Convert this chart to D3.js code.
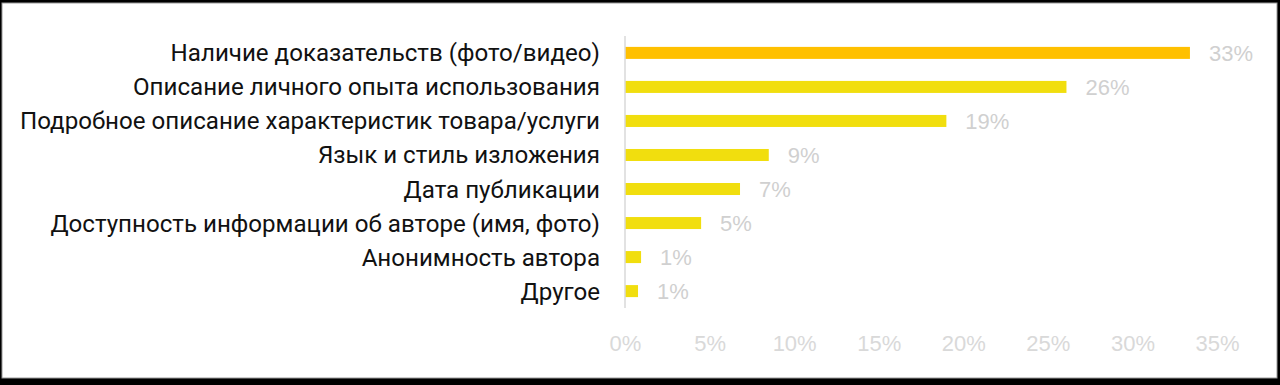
<!DOCTYPE html>
<html>
<head>
<meta charset="utf-8">
<script src="https://cdn.jsdelivr.net/npm/d3@7"></script>
<style>
  html, body { margin: 0; padding: 0; background: #000; }
  svg { display: block; }
</style>
</head>
<body>
<div id="chart"></div>
<script>
var categories = [
    "Наличие доказательств (фото/видео)",
    "Описание личного опыта использования",
    "Подробное описание характеристик товара/услуги",
    "Язык и стиль изложения",
    "Дата публикации",
    "Доступность информации об авторе (имя, фото)",
    "Анонимность автора",
    "Другое"
];
var values = [0.334, 0.261, 0.190, 0.085, 0.068, 0.045, 0.0095, 0.0077];
var valueLabels = ["33%", "26%", "19%", "9%", "7%", "5%", "1%", "1%"];
var xTicks = [0, 0.05, 0.10, 0.15, 0.20, 0.25, 0.30, 0.35];

var W = 1280, H = 385;
var margin = { top: 36, right: 63, bottom: 77, left: 625 };
var width = W - margin.left - margin.right,
    height = H - margin.top - margin.bottom;

var svg = d3.select("#chart").append("svg")
    .attr("width", W)
    .attr("height", H);

// frame
svg.append("rect").attr("width", W).attr("height", H).attr("fill", "#000");
svg.append("rect")
    .attr("x", 2).attr("y", 3)
    .attr("width", W - 5).attr("height", H - 10)
    .attr("fill", "#fff")
    .attr("stroke", "#9a9a9a")
    .attr("stroke-width", 1);

var g = svg.append("g")
    .attr("transform", "translate(" + margin.left + "," + margin.top + ")");

var x = d3.scaleLinear().domain([0, 0.35]).range([0, width - 0]);
x.range([0, 592]);

var y = d3.scaleBand()
    .domain(categories)
    .range([0, height])
    .paddingInner(0.647)
    .paddingOuter(0.32);

// bars
g.selectAll(".bar")
    .data(values)
    .enter()
    .append("rect")
    .attr("class", "bar")
    .attr("x", 0)
    .attr("y", function (d, i) { return y(categories[i]); })
    .attr("height", y.bandwidth())
    .attr("width", function (d) { return x(d); })
    .style("fill", function (d, i) { return i === 0 ? "#FFC000" : "#F1DE0E"; });

// value axis line
g.append("line")
    .attr("x1", x(0)).attr("x2", x(0))
    .attr("y1", 0).attr("y2", height)
    .attr("stroke", "#D9D9D9")
    .attr("stroke-width", 1.5);

// value labels
g.selectAll(".vlabel")
    .data(values)
    .enter()
    .append("text")
    .attr("class", "vlabel")
    .attr("x", function (d) { return x(d) + 19; })
    .attr("y", function (d, i) { return y(categories[i]) + y.bandwidth() / 2 + 8; })
    .style("font-family", "'Liberation Sans', Arial, sans-serif")
    .style("font-size", "22px")
    .style("fill", "#D0D0D0")
    .text(function (d, i) { return valueLabels[i]; });

// category labels (condensed look)
var catLabels = g.selectAll(".clabel")
    .data(categories)
    .enter()
    .append("text")
    .attr("class", "clabel")
    .attr("x", -25)
    .attr("y", function (d) { return y(d) + y.bandwidth() / 2 + 8.5; })
    .attr("text-anchor", "end")
    .style("font-family", "Roboto, 'Noto Sans', sans-serif")
    .style("font-size", "24px")
    .style("fill", "#111")
    .text(function (d) { return d; });

var longest = 0;
catLabels.each(function () {
    longest = Math.max(longest, this.getComputedTextLength());
});
var squeeze = 580 / longest;
catLabels.each(function () {
    var len = this.getComputedTextLength();
    d3.select(this)
        .attr("textLength", len * squeeze)
        .attr("lengthAdjust", "spacingAndGlyphs");
});

// x axis tick labels
var xAxis = d3.axisBottom(x)
    .tickValues(xTicks)
    .tickFormat(d3.format(".0%"))
    .tickSize(0)
    .tickPadding(0);

var axisG = g.append("g")
    .attr("class", "x axis")
    .attr("transform", "translate(0," + (height + 43) + ")")
    .call(xAxis);

axisG.select(".domain").remove();
axisG.selectAll("text")
    .attr("dy", 0)
    .style("font-family", "'Liberation Sans', Arial, sans-serif")
    .style("font-size", "22px")
    .style("fill", "#D9D9D9");
</script>
</body>
</html>
